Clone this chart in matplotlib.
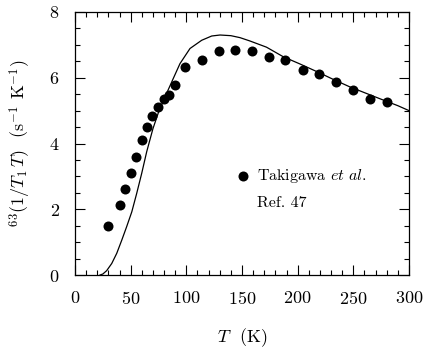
import matplotlib
matplotlib.use("Agg")
import matplotlib.pyplot as plt
from matplotlib.ticker import MultipleLocator

plt.rcParams['font.family'] = 'cmr10'
plt.rcParams['mathtext.fontset'] = 'cm'
plt.rcParams['axes.formatter.use_mathtext'] = True

# measured points (Takigawa et al., Ref. 47)
t_data = [30, 40, 45, 50, 55, 60, 64.5, 69.5, 74.5, 79.5, 84.5, 89.5, 99,
          114, 129, 144, 159, 174, 189, 204.5, 219, 234.5, 249.5, 265, 280]
rate_data = [1.5, 2.13, 2.63, 3.11, 3.6, 4.12, 4.5, 4.84, 5.12, 5.35, 5.49, 5.78, 6.33,
             6.53, 6.81, 6.84, 6.82, 6.64, 6.53, 6.23, 6.11, 5.88, 5.64, 5.34, 5.27]

# theory curve
t_curve = [22.5, 25, 28.4, 33, 37.5, 42, 46.4, 51, 55.4, 59.9, 64.4, 70, 75, 80.9,
           88.3, 94.3, 103.3, 113.8, 122.8, 130.3, 140, 148.2, 157, 172, 187, 202,
           217, 232, 247, 262, 277, 290, 300]
rate_curve = [0.0, 0.03, 0.13, 0.35, 0.66, 1.06, 1.47, 1.92, 2.48, 3.09, 3.75, 4.45,
              4.95, 5.42, 5.98, 6.43, 6.89, 7.14, 7.27, 7.3, 7.28, 7.22, 7.12, 6.93,
              6.64, 6.42, 6.19, 5.95, 5.72, 5.52, 5.32, 5.15, 5.0]

fig = plt.figure(figsize=(4.27, 3.6), dpi=100)
ax = fig.add_axes([75/427, 1 - 275/360, 334/427, 263/360])

ax.plot(t_curve, rate_curve, color='black', lw=0.9)
ax.plot(t_data, rate_data, 'o', color='black', ms=7.2, mec='none')

# legend drawn by hand
ax.plot([151], [3.0], 'o', color='black', ms=7.2, mec='none')
ax.text(163.5, 3.0, r'Takigawa $\it{et\ al.}$', fontsize=11.5, va='center', ha='left')
ax.text(163.5, 2.19, 'Ref. 47', fontsize=11.5, va='center', ha='left')

ax.set_xlim(0, 300)
ax.set_ylim(0, 8)
ax.xaxis.set_major_locator(MultipleLocator(50))
ax.xaxis.set_minor_locator(MultipleLocator(10))
ax.yaxis.set_major_locator(MultipleLocator(2))
ax.yaxis.set_minor_locator(MultipleLocator(0.5))
ax.tick_params(which='both', direction='in', top=True, right=True, width=0.8)
ax.tick_params(which='major', length=7, labelsize=13, pad=11)
ax.tick_params(which='minor', length=3.5)
for s in ax.spines.values():
    s.set_linewidth(0.9)

ax.set_xlabel(r'$T$  (K)', fontsize=13, labelpad=14)
ax.set_ylabel(r'$^{63}(1/T_{1}\,T)$  (s$^{-1}$ K$^{-1}$)', fontsize=13, labelpad=12)

fig.savefig('out.png', dpi=100)
